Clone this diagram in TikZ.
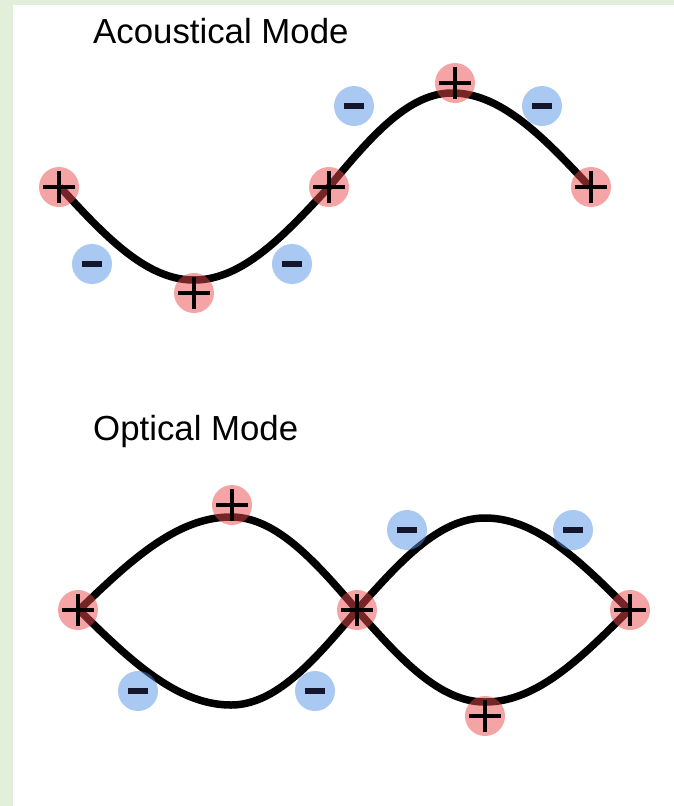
\documentclass[tikz,border=0pt]{standalone}
\usepackage{fontspec}
\setmainfont{Liberation Sans}
\definecolor{bggreen}{RGB}{226,239,218}
\definecolor{chred}{RGB}{235,75,75}
\definecolor{chblue}{RGB}{85,148,230}
\definecolor{minusink}{RGB}{20,22,45}
\newcommand\pcharge[3]{%
  \node[poscirc] (#1) at (#2,#3) {};
  \draw[plussign] ([xshift=-16pt]#1.center) -- ([xshift=16pt]#1.center);
  \draw[plussign] ([yshift=-16pt]#1.center) -- ([yshift=16pt]#1.center);}
\newcommand\ncharge[3]{%
  \node[negcirc] (#1) at (#2,#3) {};
  \draw[minussign] ([xshift=-10pt]#1.center) -- ([xshift=10pt]#1.center);}
% lobe: \lobe{x0}{x1}{x2}{y0}{amp}  (amp>0 upward), peak at x1
\newcommand\lobe[5]{%
  \draw[wave] plot[domain=#1:#2, samples=70] (\x, {#4-(#5)*sin((\x-#1)/(#2-#1)*90)})
  -- plot[domain=#2:#3, samples=70] (\x, {#4-(#5)*cos((\x-#2)/(#3-#2)*90)});}
\begin{document}
\begin{tikzpicture}[x=1pt,y=-1pt,
  wave/.style={line width=7.5pt, black, line join=round},
  poscirc/.style={circle, minimum size=40pt, inner sep=0pt, draw=none, fill=chred, fill opacity=0.5},
  negcirc/.style={circle, minimum size=40pt, inner sep=0pt, draw=none, fill=chblue, fill opacity=0.5},
  plussign/.style={line width=4pt, black},
  minussign/.style={line width=5.5pt, minusink},
  title/.style={anchor=base west, inner sep=0pt, font=\fontsize{34.8}{40}\selectfont}]
\useasboundingbox (0,0) rectangle (674,806);
\fill[bggreen] (0,0) rectangle (674,806);
\fill[white] (13,5) rectangle (674,806);
\node[title] (t1) at (93,43) {Acoustical Mode};
\node[title] (t2) at (93,440) {Optical Mode};
% acoustical wave
\lobe{60}{194}{329}{187}{-93}
\lobe{329}{452}{590}{187}{94}
% optical lobes
\lobe{79}{231}{357}{610}{93}
\lobe{79}{231}{357}{610}{-95}
\lobe{357}{485}{629}{610}{92}
\lobe{357}{485}{629}{610}{-92}
% acoustical charges
\pcharge{a1}{59}{187}
\ncharge{a2}{92}{264}
\pcharge{a3}{194}{293}
\ncharge{a4}{292}{264}
\pcharge{a5}{329}{187}
\ncharge{a6}{354}{106}
\pcharge{a7}{455}{83}
\ncharge{a8}{542}{106}
\pcharge{a9}{591}{187}
% optical charges
\pcharge{o1}{78}{610}
\pcharge{o2}{232}{505}
\ncharge{o3}{138}{691}
\ncharge{o4}{315}{691}
\pcharge{o5}{357}{610}
\ncharge{o6}{407}{530}
\ncharge{o7}{573}{530}
\pcharge{o8}{630}{610}
\pcharge{o9}{485}{716}
\end{tikzpicture}
\end{document}
